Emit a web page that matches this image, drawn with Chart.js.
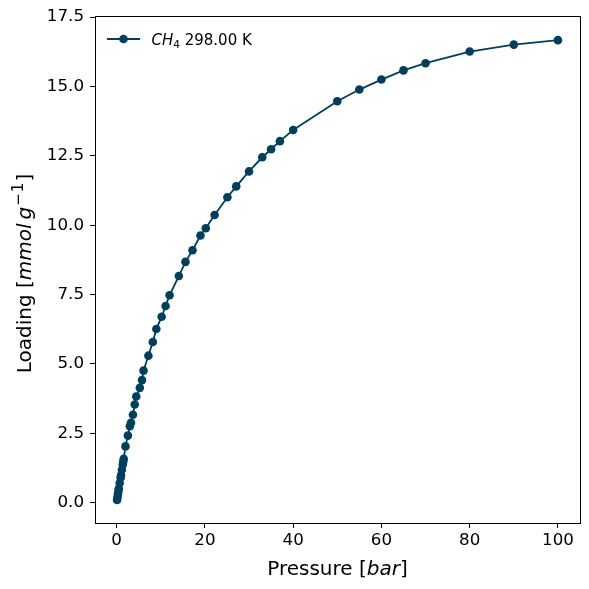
<!DOCTYPE html>
<html lang="en">
<head>
    <meta charset="UTF-8">
    <title>CH4 Isotherm</title>
    <script src="https://cdn.jsdelivr.net/npm/chart.js"></script>
    <style>
        html, body { margin: 0; padding: 0; background: #fff; }
        canvas { display: block; }
    </style>
</head>
<body>
    <canvas id="isotherm" width="589" height="589"></canvas>

    <script>
        // Data
        const pressure = [0.1, 0.2, 0.3, 0.4, 0.5, 0.7, 0.9, 1.0, 1.2, 1.4, 1.5, 1.6, 2.0,
            2.55, 3.0, 3.25, 3.7, 4.1, 4.45, 5.25, 5.75, 6.1, 7.2, 8.2, 9.0, 10.2, 11.1, 12.0,
            14.1, 15.6, 17.2, 19.0, 20.2, 22.2, 25.1, 27.1, 30.0, 33.0, 35.0, 37.0, 40.0,
            50, 55, 60, 65, 70, 80, 90, 100];
        const loading = [0.10, 0.20, 0.31, 0.41, 0.51, 0.71, 0.90, 1.00, 1.19, 1.38, 1.48, 1.58, 2.03,
            2.42, 2.76, 2.88, 3.17, 3.54, 3.83, 4.14, 4.42, 4.76, 5.30, 5.79, 6.26, 6.70, 7.09, 7.48,
            8.17, 8.68, 9.10, 9.63, 9.89, 10.37, 11.01, 11.40, 11.94, 12.45, 12.74, 13.03, 13.43,
            14.47, 14.89, 15.25, 15.58, 15.84, 16.26, 16.51, 16.67];
        const xTicks = [0, 20, 40, 60, 80, 100];
        const yTicks = [0, 2.5, 5, 7.5, 10, 12.5, 15, 17.5];

        const lineColor = '#003f5c';
        const fontFamily = '"DejaVu Sans", sans-serif';

        // draw a run of text pieces with different fonts / offsets
        function drawRuns(ctx, runs, x, y, align) {
            let total = 0;
            runs.forEach(r => { ctx.font = r.font; total += ctx.measureText(r.t).width + (r.gap || 0); });
            let cx = align === 'center' ? x - total / 2 : x;
            runs.forEach(r => {
                ctx.font = r.font;
                ctx.fillText(r.t, cx, y + (r.dy || 0));
                cx += ctx.measureText(r.t).width + (r.gap || 0);
            });
        }

        const decorations = {
            id: 'decorations',
            afterDraw(chart) {
                const ctx = chart.ctx;
                const a = chart.chartArea;
                ctx.save();

                // frame round the plot
                ctx.strokeStyle = '#000';
                ctx.lineWidth = 1;
                ctx.strokeRect(Math.round(a.left) + 0.5, Math.round(a.top) + 0.5,
                    Math.round(a.right - a.left), Math.round(a.bottom - a.top));

                ctx.fillStyle = '#000';
                ctx.textBaseline = 'alphabetic';
                ctx.textAlign = 'left';

                // x title
                drawRuns(ctx, [
                    { t: 'Pressure [', font: '20px ' + fontFamily },
                    { t: 'bar', font: 'italic 20px ' + fontFamily },
                    { t: ']', font: '20px ' + fontFamily }
                ], (a.left + a.right) / 2, 575, 'center');

                // y title
                ctx.save();
                ctx.translate(31, (a.top + a.bottom) / 2 + 4);
                ctx.rotate(-Math.PI / 2);
                drawRuns(ctx, [
                    { t: 'Loading [', font: '20px ' + fontFamily },
                    { t: 'mmol', font: 'italic 20px ' + fontFamily, gap: 4 },
                    { t: 'g', font: 'italic 20px ' + fontFamily, gap: 1 },
                    { t: '\u2212', font: '15px ' + fontFamily, dy: -8, gap: 1 },
                    { t: '1', font: '15px ' + fontFamily, dy: -8, gap: 1 },
                    { t: ']', font: '20px ' + fontFamily }
                ], 0, 0, 'center');
                ctx.restore();

                // legend
                ctx.strokeStyle = lineColor;
                ctx.lineWidth = 1.8;
                ctx.beginPath();
                ctx.moveTo(107, 39);
                ctx.lineTo(140, 39);
                ctx.stroke();
                ctx.fillStyle = lineColor;
                ctx.beginPath();
                ctx.arc(123.5, 39, 4.3, 0, Math.PI * 2);
                ctx.fill();
                ctx.fillStyle = '#000';
                drawRuns(ctx, [
                    { t: 'CH', font: 'italic 15px ' + fontFamily },
                    { t: '4', font: '10.5px ' + fontFamily, dy: 3 },
                    { t: ' 298.00 K', font: '15px ' + fontFamily }
                ], 151.5, 45, 'left');

                ctx.restore();
            }
        };

        const axisStyle = {
            grid: { display: true, drawOnChartArea: false, drawTicks: true, tickLength: 5, color: '#000', lineWidth: 1 },
            border: { display: false },
            ticks: { color: '#000', font: { family: fontFamily, size: 16.7 } }
        };

        new Chart(document.getElementById('isotherm'), {
            type: 'scatter',
            data: {
                datasets: [{
                    label: 'CH4 298.00 K',
                    data: pressure.map((p, i) => ({ x: p, y: loading[i] })),
                    showLine: true,
                    borderColor: lineColor,
                    borderWidth: 1.8,
                    backgroundColor: lineColor,
                    pointBackgroundColor: lineColor,
                    pointBorderWidth: 0,
                    pointRadius: 4.3
                }]
            },
            options: {
                responsive: false,
                animation: false,
                devicePixelRatio: 1,
                layout: { padding: { top: 15, right: 9, left: 0, bottom: 0 } },
                plugins: { legend: { display: false }, tooltip: { enabled: false } },
                scales: {
                    x: {
                        type: 'linear',
                        min: -4.9,
                        max: 105,
                        ...axisStyle,
                        ticks: { ...axisStyle.ticks, padding: 3 },
                        afterBuildTicks: s => { s.ticks = xTicks.map(v => ({ value: v })); },
                        afterFit: s => { s.height = 66; }
                    },
                    y: {
                        type: 'linear',
                        min: -0.73,
                        max: 17.54,
                        ...axisStyle,
                        ticks: { ...axisStyle.ticks, padding: 6, callback: v => v.toFixed(1) },
                        afterBuildTicks: s => { s.ticks = yTicks.map(v => ({ value: v })); },
                        afterFit: s => { s.width = 95; }
                    }
                }
            },
            plugins: [decorations]
        });
    </script>
</body>
</html>
